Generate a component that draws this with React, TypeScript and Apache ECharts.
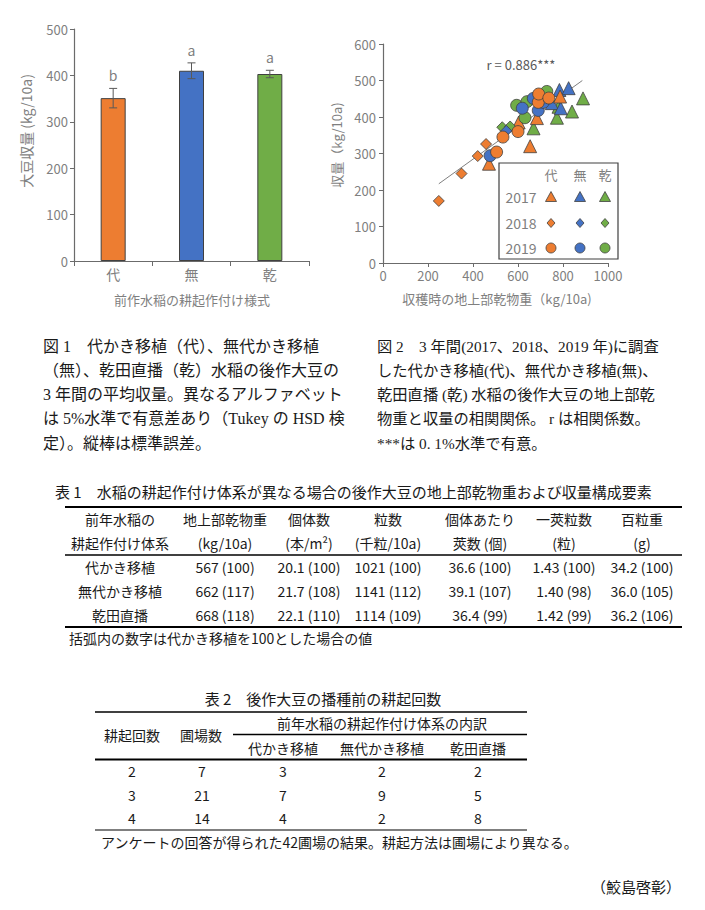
import React, { useEffect, useRef } from "react";
import * as echarts from "echarts";

// ---------- Figure 1 data ----------
const barCats = ["代", "無", "乾"];
const yieldMean = [351, 410, 403];
const yieldSE = [21, 17, 8];
const sigLetters = ["b", "a", "a"];
const barColors = ["#ED7D31", "#4472C4", "#70AD47"];

// ---------- Figure 2 data (dry matter kg/10a, yield kg/10a) ----------
const shiro2017 = [[471, 272], [603, 385], [654, 320], [684, 397], [787, 456]];
const mushiro2017 = [[750, 438], [784, 474], [790, 424], [825, 479]];
const kanden2017 = [[669, 369], [773, 398], [780, 428], [840, 415], [889, 451]];
const shiro2018 = [[248, 170], [349, 245], [421, 293], [458, 326]];
const mushiro2018 = [[548, 362]];
const kanden2018 = [[530, 372], [565, 374]];
const shiro2019 = [[505, 304], [533, 345], [600, 360], [690, 440], [692, 463], [737, 452]];
const mushiro2019 = [[476, 294], [619, 424], [668, 451], [690, 418], [712, 440]];
const kanden2019 = [[594, 432], [631, 398], [640, 442], [700, 458], [728, 470]];
const regressionLine = [[248, 217], [886, 500]];
const corrText = "r = 0.886***";
const legendYears = ["2017", "2018", "2019"];

// ---------- Table 1 ----------
const t1Title = "表 1　水稲の耕起作付け体系が異なる場合の後作大豆の地上部乾物重および収量構成要素";
const t1Head1 = ["前年水稲の", "地上部乾物重", "個体数", "粒数", "個体あたり", "一莢粒数", "百粒重"];
const t1Head2 = ["耕起作付け体系", "(kg/10a)", "(本/m²)", "(千粒/10a)", "莢数 (個)", "(粒)", "(g)"];
const t1Systems = ["代かき移植", "無代かき移植", "乾田直播"];
const t1DryMatter = ["567 (100)", "662 (117)", "668 (118)"];
const t1Plants = ["20.1 (100)", "21.7 (108)", "22.1 (110)"];
const t1Seeds = ["1021 (100)", "1141 (112)", "1114 (109)"];
const t1Pods = ["36.6 (100)", "39.1 (107)", "36.4 (99)"];
const t1SeedsPerPod = ["1.43 (100)", "1.40 (98)", "1.42 (99)"];
const t1SeedWeight = ["34.2 (100)", "36.0 (105)", "36.2 (106)"];
const t1Note = "括弧内の数字は代かき移植を100とした場合の値";

// ---------- Table 2 ----------
const t2Title = "表 2　後作大豆の播種前の耕起回数";
const t2Tillage = ["2", "3", "4"];
const t2Fields = ["7", "21", "14"];
const t2Shiro = ["3", "7", "4"];
const t2Mushiro = ["2", "9", "2"];
const t2Kanden = ["2", "5", "8"];
const t2Note = "アンケートの回答が得られた42圃場の結果。耕起方法は圃場により異なる。";

// ---------- Captions ----------
const cap1 = [
  "図 1　代かき移植（代）、無代かき移植",
  "（無）、乾田直播（乾）水稲の後作大豆の",
  "3 年間の平均収量。異なるアルファベット",
  "は 5%水準で有意差あり（Tukey の HSD 検",
  "定）。縦棒は標準誤差。",
];
const cap2 = [
  "図 2　3 年間(2017、2018、2019 年)に調査",
  "した代かき移植(代)、無代かき移植(無)、",
  "乾田直播 (乾) 水稲の後作大豆の地上部乾",
  "物重と収量の相関関係。 r は相関係数。",
  "***は 0. 1%水準で有意。",
];
const author = "（鮫島啓彰）";

const FONT = '"Noto Sans CJK JP", "Noto Sans", sans-serif';
const SERIF = '"Liberation Serif", "Noto Sans CJK JP", serif';
const GRAY = "#7f7f7f";
const AXIS = "#6b6b6b";
const INK = "#1a1a1a";

function T(x: number, y: number, text: string, o: any = {}) {
  const align = o.align || "center";
  return {
    type: "text",
    x,
    y,
    rotation: o.rotation || 0,
    z: 100,
    style: {
      text,
      fill: o.color || INK,
      fontSize: o.size || 14,
      fontFamily: o.family || FONT,
      textAlign: align,
      textVerticalAlign: "middle",
    },
  };
}
function L(x1: number, y1: number, x2: number, y2: number, w: number, color = "#000") {
  return { type: "line", z: 100, shape: { x1, y1, x2, y2 }, style: { stroke: color, lineWidth: w } };
}
function tri(cx: number, cy: number, color: string) {
  return {
    type: "polygon", z: 101,
    shape: { points: [[cx - 5.5, cy + 4.5], [cx + 5.5, cy + 4.5], [cx, cy - 5.5]] },
    style: { fill: color, stroke: "#404040", lineWidth: 0.8 },
  };
}
function dia(cx: number, cy: number, color: string) {
  return {
    type: "polygon", z: 101,
    shape: { points: [[cx, cy - 4.5], [cx + 4, cy], [cx, cy + 4.5], [cx - 4, cy]] },
    style: { fill: color, stroke: "#404040", lineWidth: 0.8 },
  };
}
function cir(cx: number, cy: number, color: string) {
  return {
    type: "circle", z: 101,
    shape: { cx, cy, r: 5 },
    style: { fill: color, stroke: "#404040", lineWidth: 0.8 },
  };
}

export default function App() {
  const ref = useRef<HTMLDivElement>(null);
  useEffect(() => {
    if (!ref.current) return;
    const chart = echarts.init(ref.current, undefined, { renderer: "svg" });

    const graphics: any[] = [];
    // axis names
    graphics.push(T(26, 131, "大豆収量 (kg/10a)", { rotation: Math.PI / 2, color: GRAY, size: 14 }));
    graphics.push(T(192, 299, "前作水稲の耕起作付け様式", { color: GRAY, size: 13 }));
    graphics.push(T(336, 145, "収量（kg/10a)", { rotation: Math.PI / 2, color: GRAY, size: 13 }));
    graphics.push(T(497, 298, "収穫時の地上部乾物重（kg/10a)", { color: GRAY, size: 13 }));
    graphics.push(T(521, 64, corrText, { color: "#595959", size: 13 }));

    // legend matrix
    graphics.push({
      type: "rect", z: 99,
      shape: { x: 499, y: 163, width: 119, height: 96 },
      style: { fill: "#fff", stroke: "#404040", lineWidth: 1.2 },
    });
    const colX = [551, 580, 605];
    const rowY = [197, 223, 248];
    barCats.forEach((c, i) => graphics.push(T(colX[i], 174, c, { color: GRAY, size: 13 })));
    legendYears.forEach((yr, j) => graphics.push(T(521, rowY[j], yr, { color: GRAY, size: 14 })));
    barColors.forEach((col, i) => {
      graphics.push(tri(colX[i], rowY[0], col));
      graphics.push(dia(colX[i], rowY[1], col));
      graphics.push(cir(colX[i], rowY[2], col));
    });

    // captions
    cap1.forEach((s, i) => graphics.push(T(43, 346 + i * 24.3, s, { align: "left", size: 16, family: SERIF })));
    cap2.forEach((s, i) => graphics.push(T(377, 346 + i * 24.3, s, { align: "left", size: 15.3, family: SERIF })));

    // table 1
    graphics.push(T(55, 491, t1Title, { align: "left", size: 15 }));
    graphics.push(L(65, 507, 682, 507, 2));
    graphics.push(L(65, 555, 682, 555, 1.5));
    graphics.push(L(65, 627, 682, 627, 2));
    const t1X = [120, 225, 309, 388, 480, 564, 642];
    t1Head1.forEach((s, i) => graphics.push(T(t1X[i], 519, s, { size: 14 })));
    t1Head2.forEach((s, i) => graphics.push(T(t1X[i], 543, s, { size: 14 })));
    const t1Cols = [t1Systems, t1DryMatter, t1Plants, t1Seeds, t1Pods, t1SeedsPerPod, t1SeedWeight];
    const t1Y = [567, 591, 615];
    t1Cols.forEach((col, i) => col.forEach((s, r) => graphics.push(T(t1X[i], t1Y[r], s, { size: 14 }))));
    graphics.push(T(69, 638, t1Note, { align: "left", size: 14 }));

    // table 2
    graphics.push(T(323, 698, t2Title, { size: 15 }));
    graphics.push(L(95, 712, 527, 712, 1.5));
    graphics.push(L(233, 734.5, 527, 734.5, 1.5));
    graphics.push(L(95, 759.5, 527, 759.5, 2));
    graphics.push(L(95, 830, 527, 830, 1.2));
    graphics.push(T(132, 735, "耕起回数", { size: 14 }));
    graphics.push(T(201, 735, "圃場数", { size: 14 }));
    graphics.push(T(382, 723, "前年水稲の耕起作付け体系の内訳", { size: 14 }));
    const t2X = [132, 202, 283, 382, 478];
    t1Systems.forEach((s, i) => graphics.push(T(t2X[i + 2], 748, s, { size: 14 })));
    const t2Cols = [t2Tillage, t2Fields, t2Shiro, t2Mushiro, t2Kanden];
    const t2Y = [771, 795, 818];
    t2Cols.forEach((col, i) => col.forEach((s, r) => graphics.push(T(t2X[i], t2Y[r], s, { size: 14 }))));
    graphics.push(T(101, 842, t2Note, { align: "left", size: 14 }));

    graphics.push(T(681, 886, author, { align: "right", size: 15 }));

    const scatterDefs = [
      { data: kanden2017, sym: "triangle", size: 13, color: barColors[2] },
      { data: mushiro2017, sym: "triangle", size: 13, color: barColors[1] },
      { data: shiro2017, sym: "triangle", size: 13, color: barColors[0] },
      { data: kanden2018, sym: "diamond", size: 11, color: barColors[2] },
      { data: mushiro2018, sym: "diamond", size: 11, color: barColors[1] },
      { data: shiro2018, sym: "diamond", size: 11, color: barColors[0] },
      { data: kanden2019, sym: "circle", size: 12, color: barColors[2] },
      { data: mushiro2019, sym: "circle", size: 12, color: barColors[1] },
      { data: shiro2019, sym: "circle", size: 12, color: barColors[0] },
    ];

    const axisCommon = {
      axisLine: { show: true, lineStyle: { color: AXIS, width: 1.2 } },
      axisTick: { show: true, length: 4, lineStyle: { color: AXIS } },
      splitLine: { show: false },
    };

    const option: any = {
      animation: false,
      textStyle: { fontFamily: FONT },
      grid: [
        { left: 74, top: 29, width: 235, height: 232 },
        { left: 383, top: 44, width: 225, height: 219 },
      ],
      xAxis: [
        {
          gridIndex: 0, type: "category", data: barCats, ...axisCommon,
          axisTick: { show: true, length: 5, lineStyle: { color: AXIS } },
          axisLabel: { color: GRAY, fontSize: 14, margin: 6 },
        },
        {
          gridIndex: 1, type: "value", min: 0, max: 1000, interval: 200, ...axisCommon,
          axisLabel: { color: GRAY, fontSize: 13, margin: 6, formatter: (v: number) => String(v) },
        },
      ],
      yAxis: [
        {
          gridIndex: 0, type: "value", min: 0, max: 500, interval: 100, ...axisCommon,
          axisLabel: { color: GRAY, fontSize: 13, margin: 6 },
        },
        {
          gridIndex: 1, type: "value", min: 0, max: 600, interval: 100, ...axisCommon,
          axisLabel: { color: GRAY, fontSize: 13, margin: 7 },
        },
      ],
      series: [
        {
          type: "bar", xAxisIndex: 0, yAxisIndex: 0, barWidth: 25,
          data: yieldMean.map((v, i) => ({
            value: v,
            itemStyle: { color: barColors[i], borderColor: "#404040", borderWidth: 1 },
          })),
        },
        {
          type: "custom", xAxisIndex: 0, yAxisIndex: 0, z: 10,
          data: yieldMean.map((v, i) => [i, v - yieldSE[i], v + yieldSE[i], i]),
          renderItem: (_p: any, api: any) => {
            const x = api.value(0);
            const lo = api.coord([x, api.value(1)]);
            const hi = api.coord([x, api.value(2)]);
            const letter = sigLetters[api.value(3)];
            const st = { stroke: "#595959", lineWidth: 1 };
            return {
              type: "group",
              children: [
                { type: "line", shape: { x1: lo[0], y1: lo[1], x2: hi[0], y2: hi[1] }, style: st },
                { type: "line", shape: { x1: hi[0] - 4, y1: hi[1], x2: hi[0] + 4, y2: hi[1] }, style: st },
                { type: "line", shape: { x1: lo[0] - 4, y1: lo[1], x2: lo[0] + 4, y2: lo[1] }, style: st },
                {
                  type: "text", x: hi[0], y: hi[1] - 13,
                  style: { text: letter, fill: GRAY, fontSize: 14, fontFamily: FONT, textAlign: "center", textVerticalAlign: "middle" },
                },
              ],
            };
          },
        },
        {
          type: "line", xAxisIndex: 1, yAxisIndex: 1, data: regressionLine, symbol: "none", z: 1,
          lineStyle: { color: "#7f7f7f", width: 1 },
        },
        ...scatterDefs.map((d) => ({
          type: "scatter", xAxisIndex: 1, yAxisIndex: 1, data: d.data,
          symbol: d.sym, symbolSize: d.size, z: 3,
          itemStyle: { color: d.color, borderColor: "#404040", borderWidth: 0.8, opacity: 1 },
        })),
      ],
      graphic: { elements: graphics },
    };
    chart.setOption(option);
    return () => chart.dispose();
  }, []);

  return (
    <div
      ref={ref}
      style={{ position: "absolute", left: 0, top: 0, width: 705, height: 910, background: "#fff" }}
    />
  );
}
